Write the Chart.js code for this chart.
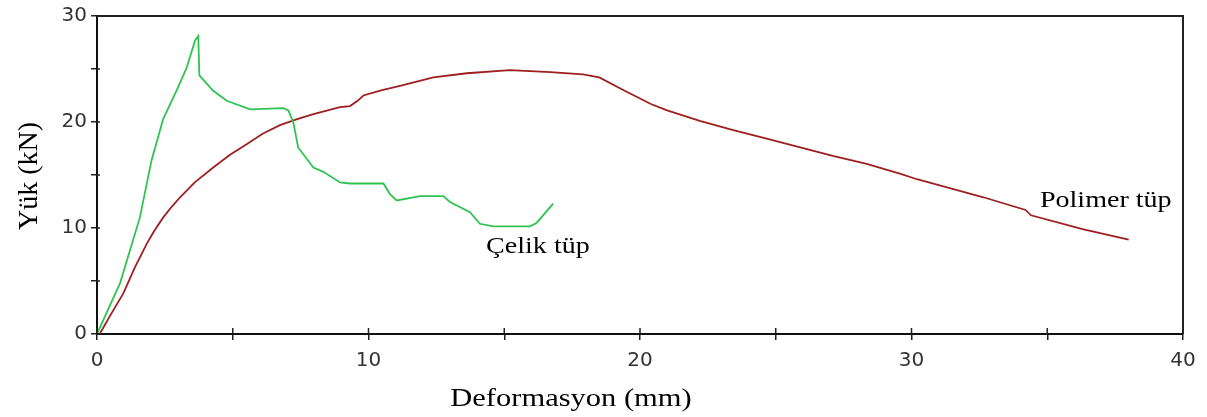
<!DOCTYPE html>
<html>
<head>
<meta charset="utf-8">
<script src="https://cdn.jsdelivr.net/npm/chart.js@4.4.1/dist/chart.umd.min.js"></script>
<style>
    html, body { margin: 0; padding: 0; background: #ffffff; }
    #wrap { width: 1207px; height: 417px; position: relative; }
</style>
</head>
<body>
<div id="wrap"><canvas id="mainGraph"></canvas></div>
<script>
// Çelik tüp (steel tube) - deformation (mm) / load (kN)
const steelX = [0, 0.85, 1.58, 2.01, 2.44, 2.93, 3.3, 3.61, 3.73, 3.77, 4.28, 4.78, 5.64, 6.86, 7.05, 7.23, 7.41, 7.97, 8.34, 8.95, 9.32, 10.55, 10.79, 11.04, 11.9, 12.76, 13.0, 13.74, 14.1, 14.6, 15.95, 16.2, 16.8]
const steelY = [0, 4.8, 11.0, 16.4, 20.3, 22.95, 25.1, 27.7, 28.1, 24.4, 22.95, 22.0, 21.2, 21.3, 21.1, 19.97, 17.6, 15.7, 15.3, 14.3, 14.2, 14.2, 13.2, 12.6, 13.0, 13.0, 12.45, 11.5, 10.4, 10.16, 10.16, 10.5, 12.3]

// Polimer tüp (polymer tube)
const polymerX = [0.1, 0.5, 0.97, 1.4, 1.83, 2.1, 2.44, 2.75, 3.06, 3.6, 4.28, 4.9, 5.51, 6.1, 6.74, 7.4, 7.97, 8.95, 9.32, 9.6, 9.81, 10.5, 11.16, 12.39, 13.62, 15.2, 16.7, 17.9, 18.5, 19.4, 20.4, 21.0, 22.2, 23.4, 24.7, 25.9, 27.1, 28.35, 29.6, 30.2, 32.65, 34.2, 34.4, 36.3, 38.0]
const polymerY = [0, 1.8, 3.83, 6.3, 8.5, 9.7, 11.0, 12.0, 12.9, 14.3, 15.7, 16.9, 17.9, 18.9, 19.7, 20.3, 20.75, 21.4, 21.5, 22.0, 22.5, 23.0, 23.4, 24.2, 24.6, 24.9, 24.7, 24.5, 24.2, 23.0, 21.7, 21.1, 20.1, 19.25, 18.4, 17.6, 16.8, 16.05, 15.1, 14.6, 12.9, 11.7, 11.2, 9.9, 8.9]

const seriesNames = ["Çelik tüp", "Polimer tüp"]
const xTitle = "Deformasyon (mm)"
const yTitle = "Yük (kN)"

const toPoints = (xs, ys) => xs.map((x, i) => ({x: x, y: ys[i]}))

const lineCanvas = document.getElementById("mainGraph")

const tickFont = {
    size: 20,
    family: "'DejaVu Sans', sans-serif"
}

// frame on top/right, ticks crossing the axes, serif texts stretched like the scan
const framePlugin = {
    id: "frame",
    afterDraw(chart) {
        const ctx = chart.ctx
        const area = chart.chartArea
        const xScale = chart.scales.x
        const yScale = chart.scales.y
        ctx.save()
        ctx.strokeStyle = "#222"
        ctx.lineWidth = 2
        ctx.beginPath()
        ctx.moveTo(area.left, area.top)
        ctx.lineTo(area.right, area.top)
        ctx.lineTo(area.right, area.bottom)
        ctx.stroke()

        ctx.lineWidth = 1.5
        ctx.beginPath()
        xScale.ticks.forEach((t) => {
            const px = xScale.getPixelForValue(t.value)
            ctx.moveTo(px, area.bottom)
            ctx.lineTo(px, area.bottom - 6)
        })
        yScale.ticks.forEach((t) => {
            const py = yScale.getPixelForValue(t.value)
            ctx.moveTo(area.left, py)
            ctx.lineTo(area.left + 3, py)
        })
        ctx.stroke()

        ctx.fillStyle = "#000"
        ctx.textBaseline = "alphabetic"
        const stretchText = (text, cx, baseline, size, align) => {
            ctx.save()
            ctx.font = size + "px 'Liberation Serif', serif"
            ctx.translate(cx, baseline)
            ctx.scale(1.22, 1)
            ctx.textAlign = align
            ctx.fillText(text, 0, 0)
            ctx.restore()
        }

        // series labels, anchored in data units
        stretchText(seriesNames[0], xScale.getPixelForValue(16.24), yScale.getPixelForValue(7.6), 23, "center")
        stretchText(seriesNames[1], xScale.getPixelForValue(34.73), yScale.getPixelForValue(12.0), 23, "left")

        // axis titles
        stretchText(xTitle, 571, 406, 25, "center")

        ctx.save()
        ctx.font = "28px 'Liberation Serif', serif"
        ctx.translate(37, 176)
        ctx.rotate(-Math.PI / 2)
        ctx.textAlign = "center"
        ctx.fillText(yTitle, 0, 0)
        ctx.restore()

        ctx.restore()
    }
}

const chartConfig = {
    type: "scatter",
    data: {
        datasets: [
            {
                label: seriesNames[0],
                data: toPoints(steelX, steelY),
                showLine: true,
                borderColor: "#2fc452",
                borderWidth: 1.8,
                pointRadius: 0,
                tension: 0
            },
            {
                label: seriesNames[1],
                data: toPoints(polymerX, polymerY),
                showLine: true,
                borderColor: "#9e1f1f",
                borderWidth: 1.8,
                pointRadius: 0,
                tension: 0
            }
        ]
    },
    options: {
        responsive: true,
        maintainAspectRatio: false,
        animation: false,
        layout: {
            padding: {left: 0, right: 24, top: 15, bottom: 0}
        },
        scales: {
            x: {
                type: "linear",
                min: 0,
                max: 40,
                grid: {
                    drawOnChartArea: false,
                    color: "#222",
                    lineWidth: 1.5,
                    tickLength: 6
                },
                border: {color: "#111", width: 2},
                ticks: {
                    stepSize: 5,
                    padding: 9,
                    color: "#333",
                    font: tickFont,
                    maxRotation: 0,
                    callback: (v) => v % 10 === 0 ? v : ""
                },
                afterFit: (scale) => { scale.height = 83 }
            },
            y: {
                type: "linear",
                min: 0,
                max: 30,
                grid: {
                    drawOnChartArea: false,
                    color: "#222",
                    lineWidth: 1.5,
                    tickLength: 6
                },
                border: {color: "#111", width: 2},
                ticks: {
                    stepSize: 5,
                    padding: 4,
                    color: "#333",
                    font: tickFont,
                    callback: (v) => v % 10 === 0 ? v : ""
                },
                afterFit: (scale) => { scale.width = 97 }
            }
        },
        plugins: {
            legend: {display: false},
            tooltip: {enabled: false}
        }
    },
    plugins: [framePlugin]
}

new Chart(lineCanvas, chartConfig)
</script>
</body>
</html>
